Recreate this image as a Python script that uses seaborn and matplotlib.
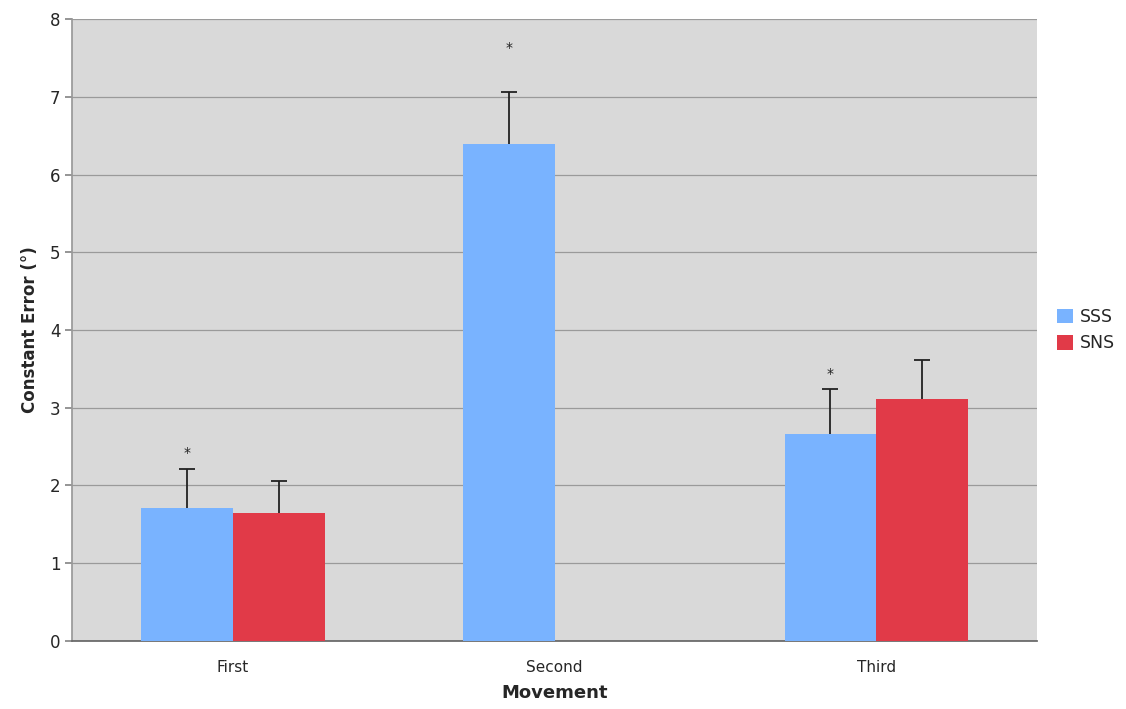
import numpy as np
import pandas as pd
import matplotlib
matplotlib.use("Agg")
import matplotlib.pyplot as plt
import seaborn as sns

# datos
movements = ["First", "Second", "Third"]
groups = ["SSS", "SNS"]
sss_mean = [1.71, 6.39, 2.66]
sns_mean = [1.65, np.nan, 3.11]
sss_err = [0.50, 0.67, 0.58]
sns_err = [0.41, np.nan, 0.50]
star_y = [2.42, 7.63, 3.43]  # asterisco sobre SSS

df = pd.DataFrame({
    "Movement": movements * 2,
    "Group": ["SSS"] * 3 + ["SNS"] * 3,
    "Value": sss_mean + sns_mean,
})

sns.set_theme(style="white")
plt.rcParams["font.family"] = ["DejaVu Sans"]
colors = {"SSS": "#79b3ff", "SNS": "#e13a48"}

fig = plt.figure(figsize=(11.26, 7.09), dpi=100)
ax = fig.add_axes([0.064, 0.096, 0.857, 0.877])
ax.set_facecolor("#d9d9d9")

width = 0.57
sns.barplot(data=df, x="Movement", y="Value", hue="Group", order=movements,
            hue_order=groups, palette=colors, width=width, errorbar=None,
            saturation=1, linewidth=0, ax=ax, zorder=3)

# barras de error solo hacia arriba
for k, (means, errs) in enumerate([(sss_mean, sss_err), (sns_mean, sns_err)]):
    off = (k - 0.5) * width / 2
    for i, (m, e) in enumerate(zip(means, errs)):
        if np.isnan(m):
            continue
        ax.vlines(i + off, m, m + e, color="#222222", linewidth=1.3, zorder=4)
        ax.plot(i + off, m + e, marker="_", markersize=11, markeredgewidth=1.3,
                color="#222222", zorder=4)
        if k == 0:
            ax.text(i + off, star_y[i], "*", ha="center", va="center",
                    fontsize=10, color="#222222", zorder=5)

ax.set_ylim(0, 8)
ax.set_xlim(-0.5, 2.5)
ax.set_yticks(range(0, 9))
ax.yaxis.grid(True, color="#9a9a9a", linewidth=0.9, zorder=0)
ax.set_axisbelow(True)
ax.set_xticks([0.5, 1.5], minor=True)
ax.tick_params(axis="x", which="major", length=0, labelsize=11, pad=14)
ax.tick_params(axis="x", which="minor", length=6, color="#cccccc")
ax.tick_params(axis="y", length=5, color="#888888", labelsize=12, left=True)

for s in ["top", "right"]:
    ax.spines[s].set_visible(False)
ax.spines["left"].set_color("#999999")
ax.spines["bottom"].set_color("#666666")

ax.set_xlabel("Movement", fontsize=13, fontweight="bold", labelpad=6)
ax.set_ylabel("Constant Error (°)", fontsize=12, fontweight="bold", labelpad=8)

ax.legend(loc="center left", bbox_to_anchor=(1.005, 0.5), frameon=False,
          fontsize=12.5, handlelength=0.9, handleheight=0.9, handletextpad=0.4,
          labelspacing=0.5)

fig.savefig("out.png", dpi=100)
